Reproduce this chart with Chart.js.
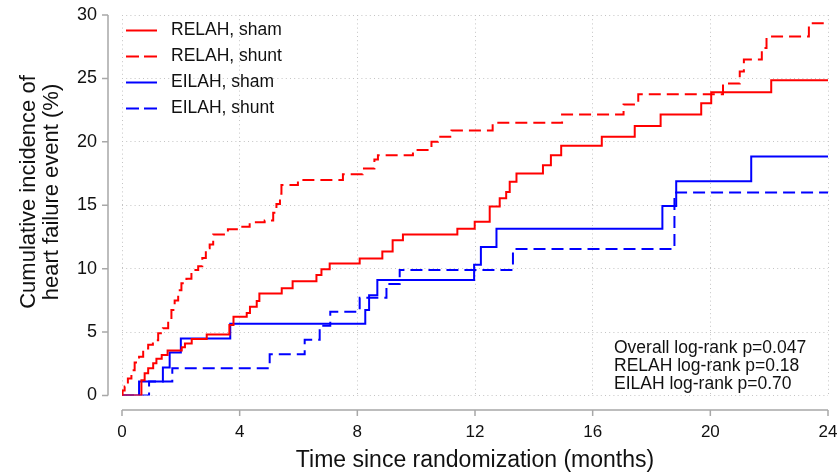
<!DOCTYPE html>
<html>
<head>
<meta charset="utf-8">
<script src="https://cdn.jsdelivr.net/npm/chart.js@4"></script>
<style>
html, body { margin: 0; padding: 0; background: #fff; }
</style>
</head>
<body>
<canvas id="myChart" width="837" height="476"></canvas>
<script>
// step times (months) and cumulative incidence (%) right after each step
const relahShamTime = [0, 0.66, 0.77, 0.89, 1.06, 1.17, 1.35, 1.55, 2.03, 2.14, 2.37, 2.88, 3.65, 3.79, 4.24, 4.35, 4.58, 4.67, 5.43, 5.8, 6.61, 6.78, 7.06, 8.08, 8.85, 9.2, 9.55, 11.4, 11.99, 12.5, 12.84, 13.06, 13.18, 13.41, 14.31, 14.58, 14.93, 16.31, 17.43, 18.31, 19.69, 20.03, 22.07, 24];
const relahShamCum = [0, 1.2, 1.75, 2.15, 2.55, 2.9, 3.2, 3.55, 3.8, 4.1, 4.45, 4.8, 5.55, 6.2, 6.5, 7.0, 7.45, 8.05, 8.45, 9.0, 9.5, 9.95, 10.4, 10.8, 11.35, 12.25, 12.7, 13.15, 13.7, 14.9, 15.55, 16.05, 16.85, 17.5, 18.15, 18.95, 19.7, 20.4, 21.25, 22.15, 23.05, 23.9, 24.85, 24.85];

const relahShuntTime = [0, 0.02, 0.09, 0.2, 0.32, 0.43, 0.58, 0.72, 0.89, 1.05, 1.23, 1.39, 1.57, 1.68, 1.79, 1.91, 2.02, 2.19, 2.36, 2.59, 2.73, 2.85, 2.98, 3.1, 3.6, 3.94, 4.34, 4.85, 5.14, 5.25, 5.37, 5.42, 5.98, 7.51, 8.18, 8.58, 8.7, 9.89, 10.52, 10.74, 11.2, 12.6, 14.96, 17.05, 17.55, 20.43, 21.0, 21.14, 21.75, 21.91, 23.35, 24];
const relahShuntCum = [0, 0.4, 0.7, 1.35, 2.0, 2.6, 3.05, 3.7, 4.0, 4.35, 4.9, 5.3, 5.95, 6.75, 7.5, 8.3, 8.85, 9.2, 9.9, 10.2, 10.85, 11.6, 11.9, 12.7, 13.1, 13.3, 13.65, 13.8, 14.4, 15.1, 15.9, 16.6, 17.0, 17.45, 17.9, 18.6, 18.95, 19.35, 20.0, 20.4, 20.9, 21.5, 22.15, 22.95, 23.75, 24.6, 25.55, 26.5, 27.4, 28.3, 29.35, 29.35];

const eilahShamTime = [0, 0.58, 1.39, 1.62, 2.0, 3.68, 8.27, 8.4, 8.68, 11.97, 12.2, 12.73, 18.37, 18.84, 21.39, 24];
const eilahShamCum = [0, 1.1, 2.2, 3.4, 4.5, 5.65, 6.75, 7.9, 9.1, 10.3, 11.7, 13.15, 14.95, 16.9, 18.85, 18.85];

const eilahShuntTime = [0, 0.92, 1.71, 5.02, 6.21, 6.72, 7.08, 8.08, 8.99, 9.44, 13.29, 18.78, 24];
const eilahShuntCum = [0, 1.1, 2.15, 3.25, 4.4, 5.5, 6.6, 7.7, 8.8, 9.9, 11.55, 16.0, 16.0];

const seriesNames = ['RELAH, sham', 'RELAH, shunt', 'EILAH, sham', 'EILAH, shunt'];
const xTicks = [0, 4, 8, 12, 16, 20, 24];
const yTicks = [0, 5, 10, 15, 20, 25, 30];
const pValueText = ['Overall log-rank p=0.047', 'RELAH log-rank p=0.18', 'EILAH log-rank p=0.70'];
const xTitle = 'Time since randomization (months)';
const yTitle = ['Cumulative incidence of', 'heart failure event (%)'];

const FONT = '"Liberation Sans", Arial, Helvetica, sans-serif';

function pairs(ts, vs) {
  return ts.map((t, i) => ({ x: t, y: vs[i] }));
}

// stata-like detached axes, legend inside plot, p-values and y title
const extras = {
  id: 'extras',
  afterDraw(chart) {
    const { ctx, chartArea, scales: { x, y } } = chart;
    ctx.save();

    ctx.strokeStyle = '#a8a8a8';
    ctx.lineWidth = 1.5;
    const ay = chartArea.bottom + 14.5;
    const ax = chartArea.left - 14;
    ctx.beginPath();
    ctx.moveTo(x.getPixelForValue(xTicks[0]), ay);
    ctx.lineTo(x.getPixelForValue(xTicks[xTicks.length - 1]), ay);
    xTicks.forEach(t => {
      const px = x.getPixelForValue(t);
      ctx.moveTo(px, ay);
      ctx.lineTo(px, ay + 6);
    });
    ctx.moveTo(ax, y.getPixelForValue(yTicks[0]));
    ctx.lineTo(ax, y.getPixelForValue(yTicks[yTicks.length - 1]));
    yTicks.forEach(v => {
      const py = y.getPixelForValue(v);
      ctx.moveTo(ax, py);
      ctx.lineTo(ax - 6, py);
    });
    ctx.stroke();

    // legend
    ctx.font = '17.5px ' + FONT;
    ctx.textBaseline = 'middle';
    ctx.textAlign = 'left';
    chart.data.datasets.forEach((ds, i) => {
      const ly = chartArea.top + 15.5 + i * 26;
      ctx.strokeStyle = ds.borderColor;
      ctx.lineWidth = 2;
      ctx.setLineDash(ds.borderDash ? [13, 5] : []);
      ctx.beginPath();
      ctx.moveTo(chartArea.left + 4, ly);
      ctx.lineTo(chartArea.left + 35, ly);
      ctx.stroke();
      ctx.setLineDash([]);
      ctx.fillStyle = '#111';
      ctx.fillText(ds.label, chartArea.left + 49, ly);
    });

    // p-values
    ctx.font = '17.5px ' + FONT;
    pValueText.forEach((t, i) => {
      ctx.fillText(t, chartArea.right - 214, chartArea.bottom - 47.5 + i * 18);
    });

    // y title
    ctx.font = '22px ' + FONT;
    ctx.textAlign = 'center';
    ctx.textBaseline = 'alphabetic';
    yTitle.forEach((t, i) => {
      ctx.save();
      ctx.translate(35 + i * 23, 192);
      ctx.rotate(-Math.PI / 2);
      ctx.fillText(t, 0, 0);
      ctx.restore();
    });

    ctx.restore();
  }
};

const ctx = document.getElementById('myChart');
const myChart = new Chart(ctx, {
  type: 'line',
  data: {
    datasets: [
      { label: seriesNames[0], data: pairs(relahShamTime, relahShamCum), borderColor: '#ff0000' },
      { label: seriesNames[1], data: pairs(relahShuntTime, relahShuntCum), borderColor: '#ff0000', borderDash: [12, 6] },
      { label: seriesNames[2], data: pairs(eilahShamTime, eilahShamCum), borderColor: '#0000ff' },
      { label: seriesNames[3], data: pairs(eilahShuntTime, eilahShuntCum), borderColor: '#0000ff', borderDash: [12, 6] }
    ]
  },
  options: {
    responsive: false,
    animation: false,
    layout: { padding: { top: 15, right: 9, left: 0, bottom: 0 } },
    elements: {
      point: { radius: 0 },
      line: { borderWidth: 2, stepped: 'before', tension: 0, fill: false }
    },
    plugins: {
      legend: { display: false },
      tooltip: { enabled: false }
    },
    scales: {
      x: {
        type: 'linear',
        min: 0,
        max: 24,
        afterBuildTicks: s => { s.ticks = xTicks.map(v => ({ value: v })); },
        afterFit: s => { s.height = 80.5; s.paddingLeft = 0; s.paddingRight = 0; },
        grid: { color: '#c4c4c4', lineWidth: 1, drawTicks: false },
        border: { display: false, dash: [1, 3.2] },
        ticks: { color: '#111', font: { family: FONT, size: 17 }, padding: 27, maxRotation: 0 },
        title: { display: true, text: xTitle, color: '#111', font: { family: FONT, size: 23 }, padding: { top: 0, bottom: 2 } }
      },
      y: {
        min: 0,
        max: 30,
        afterBuildTicks: s => { s.ticks = yTicks.map(v => ({ value: v })); },
        afterFit: s => { s.width = 122; s.paddingTop = 0; s.paddingBottom = 0; },
        grid: { color: '#c4c4c4', lineWidth: 1, drawTicks: false },
        border: { display: false, dash: [1, 3.2] },
        ticks: { color: '#111', font: { family: FONT, size: 18 }, padding: 25 }
      }
    }
  },
  plugins: [extras]
});
</script>
</body>
</html>
